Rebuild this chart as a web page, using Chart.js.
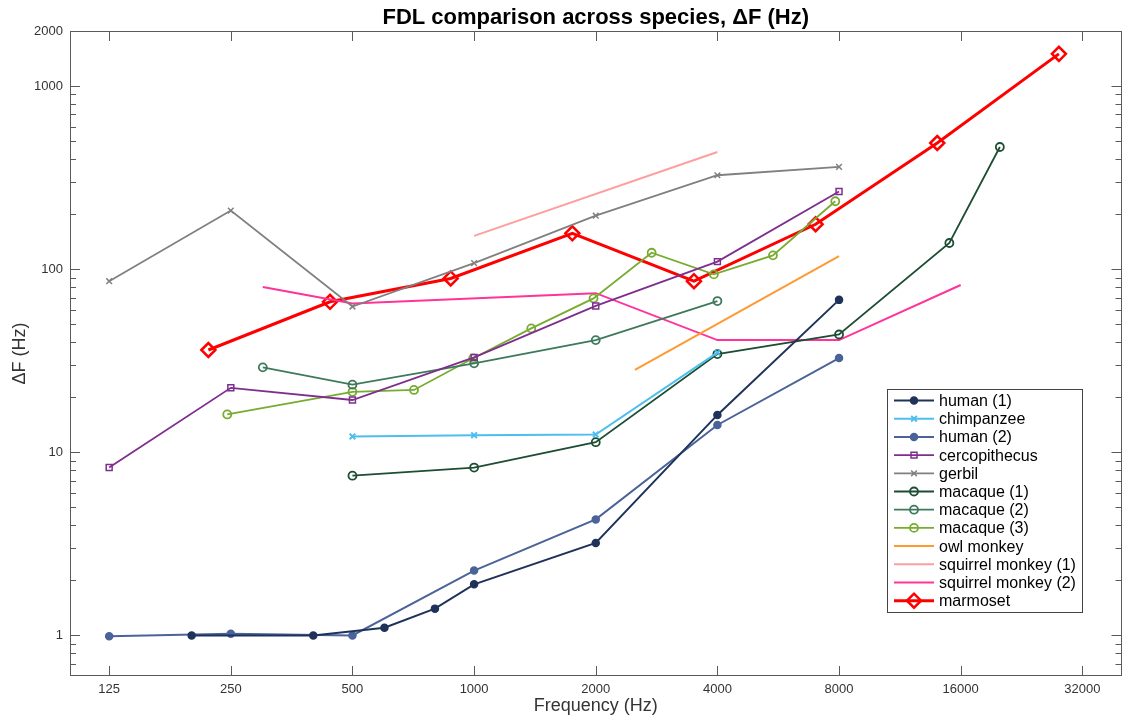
<!DOCTYPE html>
<html>
<head>
<meta charset="utf-8">
<title>FDL comparison across species</title>
<script src="https://cdn.jsdelivr.net/npm/chart.js@4.4.1/dist/chart.umd.min.js"></script>
<style>
  html, body { margin: 0; padding: 0; background: #fff; }
  #wrap { width: 1131px; height: 723px; }
</style>
</head>
<body>
<div id="wrap"><canvas id="fdl"></canvas></div>
<script>
// Frequency (Hz) and difference limen ΔF (Hz) for each species
const humanOneHz = [200, 400, 600, 800, 1000, 2000, 4000, 8000];
const humanOneDf = [1.0, 1.0, 1.1, 1.4, 1.9, 3.2, 16, 68];

const chimpHz = [500, 1000, 2000, 4000];
const chimpDf = [12.2, 12.4, 12.5, 35];

const humanTwoHz = [125, 250, 500, 1000, 2000, 4000, 8000];
const humanTwoDf = [0.99, 1.02, 1.0, 2.26, 4.3, 14.1, 32.7];

const cercoHz = [125, 250, 500, 1000, 2000, 4000, 8000];
const cercoDf = [8.25, 22.5, 19.3, 33, 63, 110, 266];

const gerbilHz = [125, 250, 500, 1000, 2000, 4000, 8000];
const gerbilDf = [86, 209, 62.5, 108, 196, 326, 362];

const macaqueOneHz = [500, 1000, 2000, 4000, 8000, 15000, 20000];
const macaqueOneDf = [7.45, 8.25, 11.35, 34.4, 44, 139, 465];

const macaqueTwoHz = [300, 500, 1000, 2000, 4000];
const macaqueTwoDf = [29.1, 23.4, 30.6, 41, 67];

const macaqueThreeHz = [245, 500, 710, 995, 1385, 1975, 2750, 3920, 5490, 7830];
const macaqueThreeDf = [16.1, 21.4, 21.9, 32.6, 47.5, 69.3, 123, 93.7, 119, 235];

const owlHz = [2500, 8000];
const owlDf = [28.2, 118];

const squirrelOneHz = [1000, 4000];
const squirrelOneDf = [152, 437];

const squirrelTwoHz = [300, 500, 2000, 4000, 8000, 16000];
const squirrelTwoDf = [80, 65, 74, 41, 41, 82];

const marmosetHz = [220, 440, 875, 1750, 3500, 7000, 14000, 28000];
const marmosetDf = [36.2, 66.4, 89, 157, 86, 176, 489, 1500];

// Axis ticks
const xTickValues = [125, 250, 500, 1000, 2000, 4000, 8000, 16000, 32000];
const yTickValues = [1, 10, 100, 1000, 2000];

const FONT = '"Liberation Sans", Arial, Helvetica, sans-serif';
const NONE = 'rgba(0,0,0,0)';

function series(label, hz, df, color, opts) {
    return Object.assign({
        label: label,
        data: hz.map((x, i) => ({ x: x, y: df[i] })),
        borderColor: color,
        backgroundColor: color,
        pointBorderColor: color,
        pointBackgroundColor: NONE,
        borderWidth: 1.8,
        pointRadius: 0,
        pointBorderWidth: 1.5,
        showLine: true,
        tension: 0,
        fill: false
    }, opts || {});
}

const datasets = [
    series('human (1)', humanOneHz, humanOneDf, '#1f335a',
        { pointStyle: 'circle', pointRadius: 3.5, pointBackgroundColor: '#1f335a', borderWidth: 2 }),
    series('chimpanzee', chimpHz, chimpDf, '#4dbeee',
        { pointStyle: 'crossRot', pointRadius: 4, pointBorderWidth: 2, borderWidth: 2 }),
    series('human (2)', humanTwoHz, humanTwoDf, '#4a6399',
        { pointStyle: 'circle', pointRadius: 3.5, pointBackgroundColor: '#4a6399', borderWidth: 2 }),
    series('cercopithecus', cercoHz, cercoDf, '#7e2f8e',
        { pointStyle: 'rect', pointRadius: 4.2 }),
    series('gerbil', gerbilHz, gerbilDf, '#808080',
        { pointStyle: 'crossRot', pointRadius: 4 }),
    series('macaque (1)', macaqueOneHz, macaqueOneDf, '#1d4d33',
        { pointStyle: 'circle', pointRadius: 4, pointBorderWidth: 1.8 }),
    series('macaque (2)', macaqueTwoHz, macaqueTwoDf, '#3d7a5c',
        { pointStyle: 'circle', pointRadius: 4, pointBorderWidth: 1.8 }),
    series('macaque (3)', macaqueThreeHz, macaqueThreeDf, '#77ac30',
        { pointStyle: 'circle', pointRadius: 4, pointBorderWidth: 1.8 }),
    series('owl monkey', owlHz, owlDf, '#ff9933', { borderWidth: 2 }),
    series('squirrel monkey (1)', squirrelOneHz, squirrelOneDf, '#ff9e9e', { borderWidth: 2 }),
    series('squirrel monkey (2)', squirrelTwoHz, squirrelTwoDf, '#ff3399', { borderWidth: 2 }),
    series('marmoset', marmosetHz, marmosetDf, '#ff0000',
        { pointStyle: 'rectRot', pointRadius: 7, pointBorderWidth: 2.5, borderWidth: 3 })
];

// Minor ticks on the log y axis (2..9 per decade, skipping labelled values)
function minorYTicks(min, max) {
    const out = [];
    for (let e = -1; e <= 4; e++) {
        for (let k = 2; k <= 9; k++) {
            const v = k * Math.pow(10, e);
            if (v > min * 1.001 && v < max * 0.999 && !yTickValues.includes(v)) out.push(v);
        }
    }
    return out;
}

// Box around the plot with inward tick marks on all four sides
const axesBox = {
    id: 'axesBox',
    afterDatasetsDraw(chart) {
        const { ctx, chartArea: a, scales: { x, y } } = chart;
        ctx.save();
        ctx.strokeStyle = '#5a5a5a';
        ctx.lineWidth = 1;
        ctx.strokeRect(Math.round(a.left) + 0.5, Math.round(a.top) + 0.5,
            Math.round(a.right - a.left) - 1, Math.round(a.bottom - a.top) - 1);
        ctx.beginPath();
        xTickValues.forEach(v => {
            const px = Math.round(x.getPixelForValue(v)) + 0.5;
            ctx.moveTo(px, a.bottom); ctx.lineTo(px, a.bottom - 10);
            ctx.moveTo(px, a.top); ctx.lineTo(px, a.top + 10);
        });
        yTickValues.forEach(v => {
            const py = Math.round(y.getPixelForValue(v)) + 0.5;
            ctx.moveTo(a.left, py); ctx.lineTo(a.left + 10, py);
            ctx.moveTo(a.right, py); ctx.lineTo(a.right - 10, py);
        });
        minorYTicks(y.min, y.max).forEach(v => {
            const py = Math.round(y.getPixelForValue(v)) + 0.5;
            ctx.moveTo(a.left, py); ctx.lineTo(a.left + 6, py);
            ctx.moveTo(a.right, py); ctx.lineTo(a.right - 6, py);
        });
        ctx.stroke();

        // title
        ctx.fillStyle = '#000';
        ctx.font = 'bold 22px ' + FONT;
        ctx.textAlign = 'center';
        ctx.textBaseline = 'alphabetic';
        ctx.fillText('FDL comparison across species, \u0394F (Hz)', (a.left + a.right) / 2, 24);
        ctx.restore();
    }
};

// Legend box drawn inside the plot area, lower right
const insideLegend = {
    id: 'insideLegend',
    afterDraw(chart) {
        const ctx = chart.ctx;
        const sets = chart.data.datasets;
        const box = { x: 887, y: 389, w: 195, h: 223 };
        const rowH = 18.2;
        ctx.save();
        ctx.fillStyle = '#fff';
        ctx.fillRect(box.x, box.y, box.w, box.h);
        ctx.strokeStyle = '#444';
        ctx.lineWidth = 1;
        ctx.strokeRect(box.x + 0.5, box.y + 0.5, box.w, box.h);
        ctx.font = '16px ' + FONT;
        ctx.textBaseline = 'middle';
        ctx.textAlign = 'left';
        sets.forEach((ds, i) => {
            const cy = box.y + 11.5 + i * rowH;
            ctx.strokeStyle = ds.borderColor;
            ctx.lineWidth = ds.borderWidth;
            ctx.beginPath();
            ctx.moveTo(894, cy);
            ctx.lineTo(934, cy);
            ctx.stroke();
            if (ds.pointRadius > 0) {
                ctx.lineWidth = ds.pointBorderWidth;
                ctx.strokeStyle = ds.pointBorderColor;
                ctx.fillStyle = ds.pointBackgroundColor;
                Chart.helpers.drawPoint(ctx, {
                    pointStyle: ds.pointStyle,
                    radius: ds.pointRadius,
                    borderWidth: ds.pointBorderWidth,
                    rotation: 0
                }, 914, cy);
            }
            ctx.fillStyle = '#000';
            ctx.fillText(ds.label, 939, cy + 1);
        });
        ctx.restore();
    }
};

Chart.defaults.font.family = FONT;

new Chart(document.getElementById('fdl'), {
    type: 'scatter',
    data: { datasets: datasets },
    plugins: [axesBox, insideLegend],
    options: {
        responsive: true,
        maintainAspectRatio: false,
        animation: false,
        devicePixelRatio: 1,
        layout: { padding: { top: 31, right: 9, left: 0, bottom: 0 } },
        plugins: {
            legend: { display: false },
            tooltip: { enabled: false },
            title: { display: false }
        },
        scales: {
            x: {
                type: 'logarithmic',
                min: 100,
                max: 40000,
                bounds: 'data',
                afterBuildTicks: s => { s.ticks = xTickValues.map(v => ({ value: v })); },
                afterFit: s => { s.height = 47; },
                grid: { display: false, drawTicks: false },
                border: { display: false },
                ticks: {
                    callback: v => String(v),
                    autoSkip: false,
                    maxRotation: 0,
                    padding: 6,
                    color: '#333',
                    font: { size: 13 }
                },
                title: {
                    display: true,
                    text: 'Frequency (Hz)',
                    color: '#333',
                    font: { size: 18 },
                    padding: { top: 0, bottom: 6 }
                }
            },
            y: {
                type: 'logarithmic',
                min: 0.6,
                max: 2000,
                bounds: 'data',
                afterBuildTicks: s => { s.ticks = yTickValues.map(v => ({ value: v })); },
                afterFit: s => { s.width = 70; },
                grid: { display: false, drawTicks: false },
                border: { display: false },
                ticks: {
                    callback: v => String(v),
                    autoSkip: false,
                    padding: 7,
                    color: '#333',
                    font: { size: 13 }
                },
                title: {
                    display: true,
                    text: '\u0394F (Hz)',
                    color: '#333',
                    font: { size: 18 },
                    padding: { top: 9, bottom: 0 }
                }
            }
        }
    }
});
</script>
</body>
</html>
